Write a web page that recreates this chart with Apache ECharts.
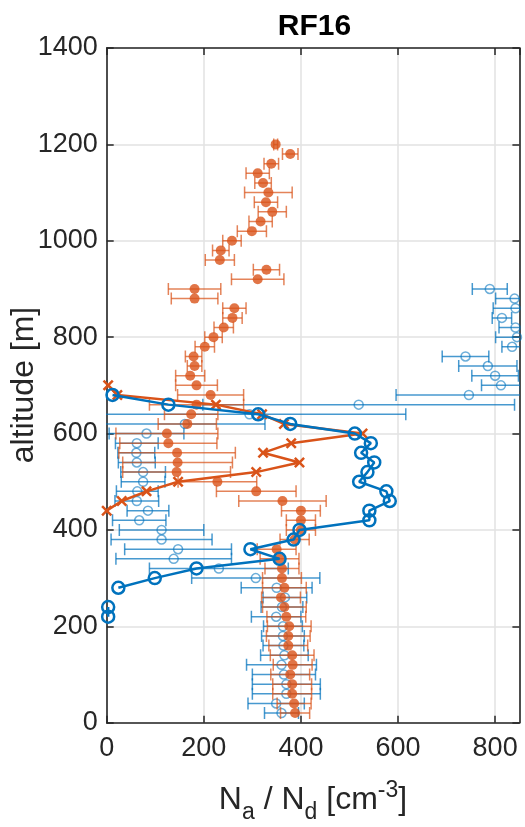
<!DOCTYPE html>
<html><head><meta charset="utf-8">
<script src="https://cdn.jsdelivr.net/npm/echarts@6/dist/echarts.min.js"></script>
<style>html,body{margin:0;padding:0;background:#fff}#c{width:525px;height:827px}</style>
</head><body><div id="c"></div><script>
// ---- data ----
const xTicks = [0, 200, 400, 600, 800];
const yTicks = [0, 200, 400, 600, 800, 1000, 1200, 1400];

const orangeAlt = [20,40,60,80,100,120,140,160,180,200,220,240,260,280,300,320,340,360,380,400,420,440,460,480,500,520,540,560,580,600,620,640,660,680,700,720,740,760,780,800,820,840,860,880,900,920,940,960,980,1000,1020,1040,1060,1080,1100,1120,1140,1160,1180,1200];
const orangeVal = [388,386,382,382,378,383,382,374,374,376,370,366,359,366,361,361,356,350,387,400,400,400,362,308,228,144,146,145,127,124,166,174,185,214,185,172,181,179,202,220,241,259,263,181,181,311,329,233,235,258,299,317,341,328,333,322,311,339,378,348];
const orangeErr = [30,35,40,40,40,40,45,40,45,45,40,45,40,45,40,35,40,40,30,30,30,40,90,82,81,111,113,120,100,105,60,55,97,68,43,30,15,17,20,18,20,20,24,48,54,54,27,30,17,19,30,24,29,24,49,17,24,15,16,4];

const blueAlt = [20,40,60,80,100,120,140,160,180,200,220,240,260,280,300,320,340,360,380,400,420,440,460,480,500,520,540,560,580,600,620,640,660,680,700,720,740,760,780,800,820,840,860,880,900];
const blueVal = [360,349,370,370,365,360,366,364,363,363,349,361,367,350,307,231,138,147,113,113,67,85,62,63,75,75,62,61,62,82,161,294,519,746,812,800,785,739,835,845,842,814,842,840,789];
const blueErr = [35,58,70,70,65,72,49,42,44,40,51,43,45,73,132,143,119,110,104,87,55,43,45,43,45,46,38,38,44,77,165,322,321,150,40,48,60,48,21,44,34,20,46,39,36];

const thickAlt = [220,240,260,280,300,320,340,360,380,400,420,440,460,480,500,520,540,560,580,600,620,640,660,680];
const thickVal = [3,3,null,24,99,185,356,296,385,397,541,541,583,576,520,537,551,524,544,511,378,312,127,12];

const crossAlt = [440,460,480,500,520,540,560,580,600,620,640,660,680,700];
const crossVal = [0,31,82,147,308,397,322,380,527,365,320,225,22,3];

// ---- styles ----
const BLUE = '#0072BD', ORANGE = '#D95319';
const BLUE_L = 'rgba(0,114,189,0.72)', ORANGE_L = 'rgba(217,83,25,0.72)';
const AX = '#262626', GRID = '#e2e2e2';
const FONT = 'Liberation Sans, Arial, Helvetica, sans-serif';

function errRender(color, cap) {
  return function (params, api) {
    const x = api.value(0), e = api.value(1), y = api.value(2);
    const p1 = api.coord([x - e, y]), p2 = api.coord([x + e, y]);
    const style = { stroke: color, lineWidth: 1.5, fill: null };
    return { type: 'group', children: [
      { type: 'line', shape: { x1: p1[0], y1: p1[1], x2: p2[0], y2: p2[1] }, style },
      { type: 'line', shape: { x1: p1[0], y1: p1[1] - cap, x2: p1[0], y2: p1[1] + cap }, style },
      { type: 'line', shape: { x1: p2[0], y1: p2[1] - cap, x2: p2[0], y2: p2[1] + cap }, style }
    ]};
  };
}

const orangeErrData = orangeAlt.map((a, i) => [orangeVal[i], orangeErr[i], a]);
const blueErrData = blueAlt.map((a, i) => [blueVal[i], blueErr[i], a]);
const orangePts = orangeAlt.map((a, i) => [orangeVal[i], a]);
const bluePts = blueAlt.map((a, i) => [blueVal[i], a]);
const thickPts = thickAlt.map((a, i) => [thickVal[i] === null ? null : thickVal[i], a]);
const crossPts = crossAlt.map((a, i) => [crossVal[i], a]);

const XPATH = 'path://M0,1.6L1.6,0L5,3.4L8.4,0L10,1.6L6.6,5L10,8.4L8.4,10L5,6.6L1.6,10L0,8.4L3.4,5Z';

const GL = 106.7, GT = 48, GW = 412.7, GH = 674.7;

function mkX(pos, labels) {
  return {
    type: 'value', min: 0, max: 850, interval: 200, position: pos,
    axisLine: { show: true, onZero: false, lineStyle: { color: AX, width: 1.6 } },
    axisTick: { show: true, inside: true, length: 7, lineStyle: { color: AX, width: 1.5 } },
    axisLabel: { show: labels, fontSize: 27, color: AX, fontFamily: FONT, margin: 12, showMaxLabel: false,
      formatter: v => (xTicks.indexOf(v) >= 0 ? String(v) : '') },
    splitLine: { show: labels, lineStyle: { color: GRID, width: 1.5 } }
  };
}
function mkY(pos, labels) {
  return {
    type: 'value', min: 0, max: 1400, interval: 200, position: pos,
    axisLine: { show: true, onZero: false, lineStyle: { color: AX, width: 1.6 } },
    axisTick: { show: true, inside: true, length: 7, lineStyle: { color: AX, width: 1.5 } },
    axisLabel: { show: labels, fontSize: 27, color: AX, fontFamily: FONT, margin: 9,
      formatter: v => (yTicks.indexOf(v) >= 0 ? String(v) : '') },
    splitLine: { show: labels, lineStyle: { color: GRID, width: 1.5 } }
  };
}

const chart = echarts.init(document.getElementById('c'), null, { renderer: 'canvas' });
chart.setOption({
  animation: false,
  backgroundColor: '#fff',
  grid: { left: GL, top: GT, width: GW, height: GH, containLabel: false },
  xAxis: [mkX('bottom', true), mkX('top', false)],
  yAxis: [mkY('left', true), mkY('right', false)],
  graphic: [
    { type: 'text', x: 314.5, y: 27,
      style: { text: 'RF16', font: 'bold 30px ' + FONT, fill: '#000', textAlign: 'center', textVerticalAlign: 'middle' } },
    { type: 'text', x: 24, y: 385, rotation: Math.PI / 2,
      style: { text: 'altitude [m]', font: '32px ' + FONT, fill: AX, textAlign: 'center', textVerticalAlign: 'middle' } },
    { type: 'text', x: 313, y: 800,
      style: { text: 'N{sub|a} / N{sub|d} [cm{sup|-3}]', font: '32px ' + FONT, fill: AX, textAlign: 'center', textVerticalAlign: 'middle',
        rich: { sub: { fontSize: 23, fontFamily: FONT, fill: AX, padding: [26, 0, 0, 0] }, sup: { fontSize: 23, fontFamily: FONT, fill: AX, padding: [0, 0, 19, 0] } } } }
  ],
  series: [
    { type: 'custom', name: 'blueErr', clip: true, renderItem: errRender(BLUE_L, 6), data: blueErrData, encode: { x: 0, y: 2 }, z: 2 },
    { type: 'scatter', name: 'blue', data: bluePts, symbol: 'circle', symbolSize: 9,
      itemStyle: { color: 'rgba(0,0,0,0)', borderColor: BLUE_L, borderWidth: 1.5 }, z: 3 },
    { type: 'custom', name: 'orangeErr', clip: true, renderItem: errRender(ORANGE_L, 6), data: orangeErrData, encode: { x: 0, y: 2 }, z: 4 },
    { type: 'scatter', name: 'orange', data: orangePts, symbol: 'circle', symbolSize: 10,
      itemStyle: { color: ORANGE }, z: 5 },
    { type: 'line', name: 'cross', data: crossPts, symbol: XPATH, symbolSize: 11, showAllSymbol: true,
      lineStyle: { color: ORANGE, width: 2.5 }, itemStyle: { color: ORANGE }, z: 6 },
    { type: 'line', name: 'thick', data: thickPts, symbol: 'circle', symbolSize: 12, showAllSymbol: true, connectNulls: false,
      lineStyle: { color: BLUE, width: 2.5 }, itemStyle: { color: 'rgba(0,0,0,0)', borderColor: BLUE, borderWidth: 2.5 }, z: 7 }
  ]
});
</script></body></html>
